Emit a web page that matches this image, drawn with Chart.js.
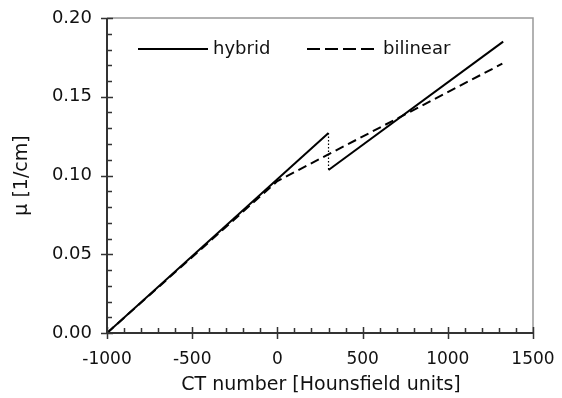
<!DOCTYPE html>
<html>
<head>
<meta charset="utf-8">
<script src="https://cdn.jsdelivr.net/npm/chart.js@4/dist/chart.umd.min.js"></script>
<style>
html,body{margin:0;padding:0;background:#fff;}
#wrap{width:562px;height:398px;position:relative;}
</style>
</head>
<body>
<div id="wrap"><canvas id="c" width="562" height="398"></canvas></div>
<script>
// Data
const hybridLowX = [-1000, 300];
const hybridLowY = [0.0, 0.127];
const hybridHighX = [300, 1325];
const hybridHighY = [0.1035, 0.185];
const jumpX = [300, 300];
const jumpY = [0.127, 0.1035];
const bilinearX = [-1000, 0, 1320];
const bilinearY = [0.0, 0.0965, 0.171];
const seriesNames = ['hybrid', 'bilinear'];
const xTicks = [-1000, -500, 0, 500, 1000, 1500];
const yTicks = [0.00, 0.05, 0.10, 0.15, 0.20];
const xTitle = 'CT number [Hounsfield units]';
const yTitle = 'μ [1/cm]';

const pts = (xs, ys) => xs.map((x, i) => ({x: x, y: ys[i]}));
const FONT = '"DejaVu Sans", Verdana, sans-serif';

const axesPlugin = {
  id: 'axesPlugin',
  afterDraw(chart) {
    const ctx = chart.ctx, a = chart.chartArea;
    const xs = chart.scales.x, ys = chart.scales.y;
    ctx.save();
    // gray top/right border
    ctx.strokeStyle = '#999';
    ctx.lineWidth = 1.5;
    ctx.beginPath();
    ctx.moveTo(a.left, a.top); ctx.lineTo(a.right, a.top); ctx.lineTo(a.right, a.bottom);
    ctx.stroke();
    // black left/bottom axes
    ctx.strokeStyle = '#333';
    ctx.lineWidth = 2;
    ctx.beginPath();
    ctx.moveTo(a.left, a.top); ctx.lineTo(a.left, a.bottom); ctx.lineTo(a.right, a.bottom);
    ctx.stroke();
    // ticks
    ctx.lineWidth = 1.5;
    ctx.beginPath();
    for (let v = -1000; v <= 1500; v += 100) {
      const px = Math.round(xs.getPixelForValue(v)) + 0.5;
      const major = (v % 500 === 0);
      if (major) { ctx.moveTo(px, a.bottom - 6); ctx.lineTo(px, a.bottom + 6); }
      else { ctx.moveTo(px, a.bottom); ctx.lineTo(px, a.bottom - 5); }
    }
    for (let k = 0; k <= 20; k++) {
      const v = k * 0.01;
      const py = Math.round(ys.getPixelForValue(v)) + 0.5;
      const major = (k % 5 === 0);
      if (major) { ctx.moveTo(a.left - 6, py); ctx.lineTo(a.left + 6, py); }
      else { ctx.moveTo(a.left, py); ctx.lineTo(a.left + 5, py); }
    }
    ctx.stroke();
    // tick labels
    ctx.fillStyle = '#111';
    ctx.font = '17px ' + FONT;
    ctx.textAlign = 'center'; ctx.textBaseline = 'middle';
    xTicks.forEach(v => ctx.fillText(String(v), xs.getPixelForValue(v), a.bottom + 27));
    ctx.font = '18px ' + FONT;
    ctx.textAlign = 'right';
    yTicks.forEach(v => ctx.fillText(v.toFixed(2), a.left - 15, ys.getPixelForValue(v)));
    // axis titles
    ctx.font = '19px ' + FONT;
    ctx.textAlign = 'center';
    ctx.fillText(xTitle, (a.left + a.right) / 2 + 1, a.bottom + 52);
    ctx.save();
    ctx.translate(22, (a.top + a.bottom) / 2);
    ctx.rotate(-Math.PI / 2);
    ctx.fillText(yTitle, 0, 0);
    ctx.restore();
    // legend
    ctx.strokeStyle = '#000'; ctx.lineWidth = 2;
    ctx.beginPath(); ctx.moveTo(138, 49); ctx.lineTo(208, 49); ctx.stroke();
    ctx.setLineDash([13, 5]);
    ctx.beginPath(); ctx.moveTo(307, 49); ctx.lineTo(378, 49); ctx.stroke();
    ctx.setLineDash([]);
    ctx.font = '18px ' + FONT;
    ctx.textAlign = 'left';
    ctx.fillText(seriesNames[0], 213, 49);
    ctx.fillText(seriesNames[1], 383, 49);
    ctx.restore();
  }
};

new Chart(document.getElementById('c'), {
  type: 'scatter',
  data: {
    datasets: [
      {label: seriesNames[0], data: pts(hybridLowX, hybridLowY), showLine: true, borderColor: '#000', borderWidth: 2, pointRadius: 0},
      {label: seriesNames[0] + ' (upper)', data: pts(hybridHighX, hybridHighY), showLine: true, borderColor: '#000', borderWidth: 2, pointRadius: 0},
      {label: 'jump', data: pts(jumpX, jumpY), showLine: true, borderColor: '#000', borderWidth: 1.2, borderDash: [1.5, 2], pointRadius: 0},
      {label: seriesNames[1], data: pts(bilinearX, bilinearY), showLine: true, borderColor: '#000', borderWidth: 2, borderDash: [9, 5], pointRadius: 0}
    ]
  },
  options: {
    responsive: false,
    animation: false,
    layout: {padding: {top: 18, right: 29, left: 0, bottom: 0}},
    plugins: {legend: {display: false}, tooltip: {enabled: false}},
    scales: {
      x: {
        type: 'linear', min: -1000, max: 1500,
        grid: {display: false, drawTicks: false}, border: {display: false},
        ticks: {display: false},
        afterFit(s) { s.height = 65; }
      },
      y: {
        type: 'linear', min: 0, max: 0.2,
        grid: {display: false, drawTicks: false}, border: {display: false},
        ticks: {display: false},
        afterFit(s) { s.width = 107; }
      }
    }
  },
  plugins: [axesPlugin]
});
</script>
</body>
</html>
